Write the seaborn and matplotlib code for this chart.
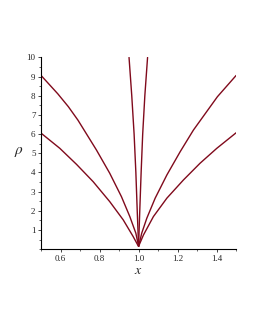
import numpy as np
import pandas as pd
import matplotlib
matplotlib.use("Agg")
import matplotlib.pyplot as plt
import seaborn as sns
from matplotlib.ticker import MultipleLocator

sns.set_style("ticks")
plt.rcParams['font.family'] = ['Liberation Serif', 'DejaVu Serif']
plt.rcParams['mathtext.fontset'] = 'stix'

# Values (x, rho), each curve ends at the cusp x = 1
outer_left_x = [0.50, 0.586, 0.64, 0.689, 0.784, 0.852, 0.912, 0.955, 0.986, 1.0]
outer_left_rho = [9.06, 8.10, 7.43, 6.73, 5.17, 3.96, 2.74, 1.70, 0.83, 0.15]
inner_left_x = [0.50, 0.596, 0.682, 0.767, 0.852, 0.921, 0.972, 0.995, 1.0]
inner_left_rho = [6.05, 5.26, 4.42, 3.52, 2.48, 1.53, 0.66, 0.23, 0.15]
outer_right_x = [1.0, 1.016, 1.042, 1.085, 1.145, 1.213, 1.281, 1.404, 1.50]
outer_right_rho = [0.15, 0.83, 1.61, 2.66, 3.87, 5.08, 6.21, 7.95, 9.06]
inner_right_x = [1.0, 1.025, 1.076, 1.145, 1.230, 1.315, 1.401, 1.50]
inner_right_rho = [0.15, 0.74, 1.70, 2.66, 3.61, 4.48, 5.26, 6.07]
steep_left_x = [0.951, 0.965, 0.977, 0.986, 0.993, 1.0]
steep_left_rho = [10.0, 8.0, 6.0, 4.0, 2.0, 0.15]
steep_right_x = [1.0, 1.006, 1.013, 1.021, 1.032, 1.046]
steep_right_rho = [0.15, 2.0, 4.0, 6.0, 8.0, 10.0]

curves = {
    'outer_left': (outer_left_x, outer_left_rho),
    'inner_left': (inner_left_x, inner_left_rho),
    'outer_right': (outer_right_x, outer_right_rho),
    'inner_right': (inner_right_x, inner_right_rho),
    'steep_left': (steep_left_x, steep_left_rho),
    'steep_right': (steep_right_x, steep_right_rho),
}

line_color = '#800A1C'

fig = plt.figure(figsize=(2.55, 3.30), dpi=100)
ax = fig.add_axes([0.161, 0.245, 0.765, 0.581])

for name, (xs, ys) in curves.items():
    sns.lineplot(x=xs, y=ys, ax=ax, color=line_color, linewidth=1.0, sort=False)

ax.set_xlim(0.5, 1.5)
ax.set_ylim(0, 10)
ax.xaxis.set_minor_locator(MultipleLocator(0.1))
ax.yaxis.set_minor_locator(MultipleLocator(0.5))
ax.set_xticks([0.6, 0.8, 1.0, 1.2, 1.4])
ax.set_xticklabels(['0.6', '0.8', '1.0', '1.2', '1.4'])
ax.set_yticks(range(1, 11))
ax.tick_params(axis='both', which='major', labelsize=6.5, length=2.5, width=0.6, pad=1.5)
ax.tick_params(axis='both', which='minor', length=1.5, width=0.5)

for side in ['top', 'right']:
    ax.spines[side].set_visible(False)
for side in ['left', 'bottom']:
    ax.spines[side].set_linewidth(0.8)
    ax.spines[side].set_color('black')

ax.set_xlabel('$x$', fontsize=10, labelpad=1)
ax.set_ylabel(r'$\rho$', fontsize=11, rotation=0)
ax.yaxis.set_label_coords(-0.115, 0.47)

fig.savefig('out.png', dpi=100)
